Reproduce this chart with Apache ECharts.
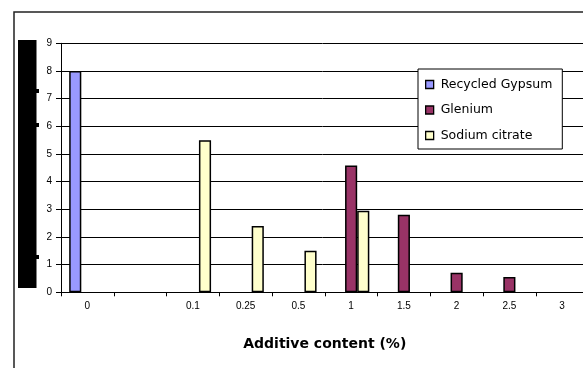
<!DOCTYPE html>
<html>
<head>
<meta charset="utf-8">
<style>
  html, body { margin: 0; padding: 0; background: #fff; }
  #chart { width: 583px; height: 368px; }
</style>
<script src="https://cdn.jsdelivr.net/npm/echarts@6/dist/echarts.min.js"></script>
</head>
<body>
<div id="chart"></div>
<script>
// Additive content categories (%), one slot left empty after 0
const categories = ['0', '', '0.1', '0.25', '0.5', '1', '1.5', '2', '2.5', '3'];

// Measured values per additive
const recycledGypsum = [8, null, null, null, null, null, null, null, null, null];
const glenium        = [null, null, null, null, null, 4.58, 2.8, 0.71, 0.55, null];
const sodiumCitrate  = [null, null, 5.5, 2.4, 1.5, 2.95, null, null, null, null];

const seriesNames = ['Recycled Gypsum', 'Glenium', 'Sodium citrate'];
const seriesColors = ['#9999FF', '#993366', '#FFFFCC'];
const seriesData = [recycledGypsum, glenium, sodiumCitrate];

const chart = echarts.init(document.getElementById('chart'), null, { renderer: 'canvas' });

const option = {
  animation: false,
  backgroundColor: '#fff',
  graphic: [
    // outer chart frame
    { type: 'rect', shape: { x: 14, y: 12, width: 640, height: 420 },
      style: { fill: 'none', stroke: '#222', lineWidth: 1.5 }, silent: true },
    // blacked-out vertical axis title
    { type: 'rect', shape: { x: 18, y: 40, width: 18.5, height: 248 },
      style: { fill: '#000' }, silent: true },
    { type: 'rect', shape: { x: 36, y: 89, width: 3, height: 4 }, style: { fill: '#000' }, silent: true },
    { type: 'rect', shape: { x: 36, y: 123, width: 3, height: 4 }, style: { fill: '#000' }, silent: true },
    { type: 'rect', shape: { x: 36, y: 255, width: 3, height: 4 }, style: { fill: '#000' }, silent: true }
  ],
  grid: {
    left: 61, top: 43.3, right: -5.5, bottom: 75.7,
    containLabel: false, outerBoundsMode: 'none'
  },
  legend: {
    orient: 'vertical',
    left: 418, top: 69,
    padding: [9, 10, 7, 7],
    itemWidth: 8, itemHeight: 8, itemGap: 12.5,
    icon: 'rect',
    borderColor: '#000', borderWidth: 1,
    backgroundColor: '#fff',
    itemStyle: { borderColor: '#000', borderWidth: 1.3 },
    textStyle: { fontFamily: 'DejaVu Sans', fontSize: 12.5, color: '#000', padding: [0, 0, 0, 2] },
    data: seriesNames
  },
  xAxis: {
    type: 'category',
    data: categories,
    boundaryGap: true,
    axisLine: { show: true, lineStyle: { color: '#000', width: 1 } },
    axisTick: { show: true, length: 4, interval: 0, alignWithLabel: false, lineStyle: { color: '#000' } },
    axisLabel: { interval: 0, margin: 9, fontSize: 10, fontFamily: 'Liberation Sans', color: '#000' },
    splitLine: { show: false },
    name: 'Additive content (%)',
    nameLocation: 'middle',
    nameGap: 45,
    nameTextStyle: { fontFamily: 'DejaVu Sans', fontWeight: 'bold', fontSize: 14, color: '#000' }
  },
  yAxis: {
    type: 'value',
    min: 0, max: 9, interval: 1,
    axisLine: { show: true, lineStyle: { color: '#000', width: 1 } },
    axisTick: { show: true, length: 5, lineStyle: { color: '#000' } },
    axisLabel: { margin: 9, fontSize: 10, fontFamily: 'Liberation Sans', color: '#000' },
    splitLine: { show: true, lineStyle: { color: '#000', width: 1 } }
  },
  series: seriesNames.map((name, i) => ({
    name: name,
    type: 'bar',
    data: seriesData[i],
    barGap: '0%',
    barCategoryGap: '31%',
    itemStyle: { color: seriesColors[i], borderColor: '#000', borderWidth: 1.5 }
  }))
};

chart.setOption(option);
</script>
</body>
</html>
